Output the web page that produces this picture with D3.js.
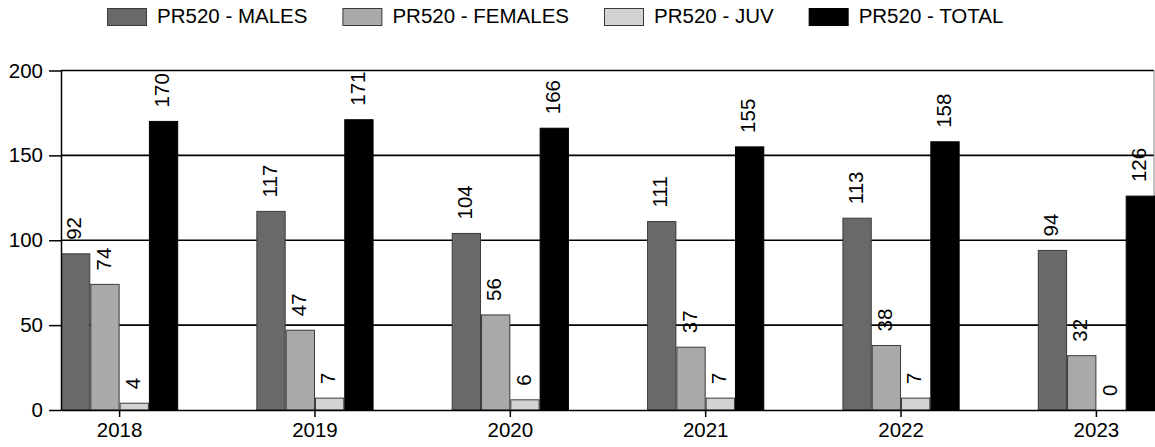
<!DOCTYPE html>
<html>
<head>
<meta charset="utf-8">
<script src="https://cdn.jsdelivr.net/npm/d3@7"></script>
<style>
  body { margin: 0; background: #fff; }
  text { font-family: "Liberation Sans", Arial, sans-serif; fill: #000; }
</style>
</head>
<body>
<svg width="1155" height="447"></svg>
<script>
const years = ["2018", "2019", "2020", "2021", "2022", "2023"];
const seriesNames = ["PR520 - MALES", "PR520 - FEMALES", "PR520 - JUV", "PR520 - TOTAL"];
const males = [92, 117, 104, 111, 113, 94];
const females = [74, 47, 56, 37, 38, 32];
const juv = [4, 7, 6, 7, 7, 0];
const total = [170, 171, 166, 155, 158, 126];
const yTicks = [0, 50, 100, 150, 200];
const colors = ["#696969", "#a9a9a9", "#d3d3d3", "#000000"];

const series = [males, females, juv, total];
const fontSize = 20.5;

const svg = d3.select("svg");

const plotLeft = 61, plotRight = 1155, plotTop = 70.5, plotBottom = 410;

let x = d3.scaleBand().domain(years).range([plotLeft, plotRight]).paddingInner(0.4).paddingOuter(0);
let xs = d3.scaleBand().domain(seriesNames).range([0, x.bandwidth()]);
let y = d3.scaleLinear().domain([0, 200]).range([plotBottom, plotTop]);

// gridlines
svg.append("g").selectAll("line").data(yTicks.filter(d => d > 0)).enter()
    .append("line")
    .attr("x1", plotLeft).attr("x2", plotRight - 1)
    .attr("y1", d => y(d)).attr("y2", d => y(d))
    .attr("stroke", "#000").attr("stroke-width", 1.6);

// right border
svg.append("line")
    .attr("x1", plotRight - 1).attr("x2", plotRight - 1)
    .attr("y1", plotTop).attr("y2", plotBottom)
    .attr("stroke", "#808080").attr("stroke-width", 1);

// bars
const groups = svg.append("g").selectAll("g").data(years).enter()
    .append("g")
    .attr("transform", d => "translate(" + x(d) + ",0)");

groups.each(function (yr, i) {
    const g = d3.select(this);
    seriesNames.forEach(function (name, s) {
        const v = series[s][i];
        if (v > 0) {
            g.append("rect")
                .attr("x", xs(name) + 0.5)
                .attr("y", y(v))
                .attr("width", xs.bandwidth() - 1)
                .attr("height", y(0) - y(v))
                .attr("fill", colors[s])
                .attr("stroke", s == 3 ? "#000" : "#3a3a3a")
                .attr("stroke-width", 1);
        }
        const cx = xs(name) + xs.bandwidth() / 2;
        g.append("text")
            .attr("transform", "translate(" + cx + "," + (y(v) - 14) + ") rotate(-90)")
            .attr("dy", "0.28em")
            .attr("text-anchor", "start")
            .style("font-size", fontSize + "px")
            .text(v);
    });
});

// axes
let leftAxis = d3.axisLeft(y).tickValues(yTicks).tickSize(12).tickSizeOuter(0).tickPadding(6);
const ly = svg.append("g").attr("transform", "translate(" + plotLeft + ",0)").call(leftAxis);
ly.selectAll("text").style("font-size", fontSize + "px").attr("fill", "#000");
ly.selectAll("line").attr("stroke", "#000").attr("stroke-width", 1.5);
ly.select(".domain").attr("stroke", "#000").attr("stroke-width", 1.5);

let bottomAxis = d3.axisBottom(x).tickSize(7).tickSizeOuter(0).tickPadding(5);
const bx = svg.append("g").attr("transform", "translate(0," + plotBottom + ")").call(bottomAxis);
bx.selectAll("text").style("font-size", fontSize + "px").attr("fill", "#000");
bx.selectAll("line").attr("stroke", "#000").attr("stroke-width", 1.5);
bx.select(".domain").attr("stroke", "#000").attr("stroke-width", 1.5);

// legend
const legend = svg.append("g");
let lx = 107;
seriesNames.forEach(function (name, s) {
    legend.append("rect")
        .attr("x", lx + 0.5).attr("y", 8.5)
        .attr("width", 39).attr("height", 17)
        .attr("fill", colors[s])
        .attr("stroke", s == 3 ? "#000" : "#3a3a3a");
    const t = legend.append("text")
        .attr("x", lx + 50).attr("y", 23)
        .style("font-size", fontSize + "px")
        .text(name);
    lx = lx + 50 + t.node().getComputedTextLength() + 35;
});
</script>
</body>
</html>
